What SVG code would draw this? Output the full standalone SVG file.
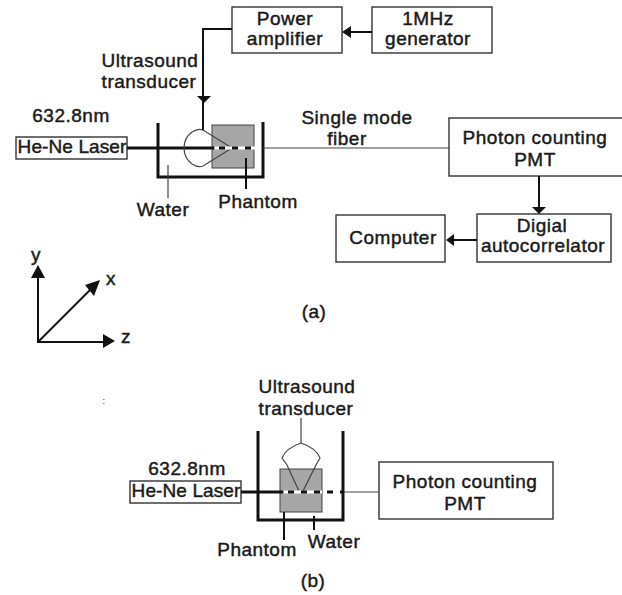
<svg xmlns="http://www.w3.org/2000/svg" width="622" height="595" viewBox="0 0 622 595">
<style>
text{font-family:"Liberation Sans",Arial,sans-serif;font-size:19px;letter-spacing:.5px;fill:#1a1a1a;text-anchor:middle;stroke:#1a1a1a;stroke-width:.45px}
.l{letter-spacing:.1px}
.b{fill:#fff;stroke:#333;stroke-width:1.4}
.t{fill:none;stroke:#111;stroke-width:3}
.m{fill:none;stroke:#111;stroke-width:2}
.n{fill:none;stroke:#444;stroke-width:1.2}
.p{fill:#a6a6a6;stroke:#444;stroke-width:1}
.a{fill:#111}
</style>
<rect width="622" height="595" fill="#fff"/>
<g id="power-amplifier"><rect class="b" x="232" y="7" width="110" height="46"/><text x="285" y="25">Power</text><text x="285" y="45">amplifier</text></g>
<g id="generator"><rect class="b" x="372" y="7" width="120" height="46"/><text x="428" y="25">1MHz</text><text x="428" y="45">generator</text></g>
<g id="label-transducer-a"><text x="150" y="67">Ultrasound</text><text x="149" y="88">transducer</text></g>
<g id="label-fiber"><text x="357" y="124">Single mode</text><text x="347" y="145">fiber</text></g>
<g id="pmt-a"><rect class="b" x="449" y="118" width="190" height="58"/><text x="535" y="144">Photon counting</text><text x="535" y="166">PMT</text></g>
<g id="autocorrelator"><rect class="b" x="477" y="214" width="134" height="48"/><text x="542" y="232">Digial</text><text x="543" y="252">autocorrelator</text></g>
<g id="computer"><rect class="b" x="336" y="215" width="109" height="47"/><text x="393" y="244">Computer</text></g>
<g id="laser-a"><rect class="b" x="16" y="137" width="111" height="22"/><text class="l" x="72" y="153">He-Ne Laser</text><text x="71" y="122">632.8nm</text></g>
<g id="tank-a">
<rect class="p" x="212" y="125" width="42" height="43"/>
<path class="t" d="M158 123V177H263V122"/>
<path class="t" d="M127 148H214"/>
<path class="n" d="M232 148L203 130Q198 128 192 132Q184 138 184 148Q184 158 192 164Q198 168 203 166L232 148"/>
<path d="M215 148H258" stroke="#fff" stroke-width="3" fill="none"/>
<path d="M219 148H258" stroke="#111" stroke-width="3" stroke-dasharray="6 7" fill="none"/>
<path class="n" d="M168 165V198"/>
<path class="m" d="M246 158V189"/>
<text x="163" y="216">Water</text><text x="258" y="208">Phantom</text>
</g>
<g id="connectors">
<path class="m" d="M232 29H203V130"/><path class="a" d="M197 96H211L204 103Z"/>
<path class="m" d="M372 32H349"/><path class="a" d="M351 26V38L342 32Z"/>
<path class="n" d="M263 148H449"/>
<path class="m" d="M539 176V208"/><path class="a" d="M532 207H546L539 214Z"/>
<path class="m" d="M477 240H452"/><path class="a" d="M454 234V246L446 240Z"/>
<path class="m" d="M38 343V272"/><path class="a" d="M31 278L38 265L45 278Z"/>
<path class="m" d="M38 342H106"/><path class="a" d="M103 334L115 341L103 348Z"/>
<path class="m" d="M38 342L92 288"/><path class="a" d="M85 285L100 280L94 296Z"/>
<path class="n" d="M343 492H379"/>
</g>
<g id="axes"><text x="36" y="261">y</text><text x="111" y="285">x</text><text x="126" y="343">z</text></g>
<text x="314" y="318">(a)</text>
<text x="104" y="404" style="font-size:9px;stroke:none">:</text>
<g id="laser-b"><rect class="b" x="130" y="481" width="111" height="22"/><text class="l" x="186" y="497">He-Ne Laser</text><text x="187" y="475">632.8nm</text></g>
<g id="tank-b">
<rect class="p" x="280" y="469" width="42" height="43"/>
<path class="t" d="M258 431V520H343V431"/>
<path class="t" d="M241 492H283"/>
<path class="n" d="M299 491L287 465L282 458Q286 448 301 443Q316 448 320 458L316 465L303 491"/>
<path d="M284 492H322" stroke="#fff" stroke-width="3" fill="none"/>
<path d="M288 492H342" stroke="#111" stroke-width="3" stroke-dasharray="6 7" fill="none"/>
<path class="n" d="M301 418V443"/>
<path class="m" d="M284 512V540"/>
<path class="m" d="M314 516V530"/>
<text x="257" y="556">Phantom</text><text x="334" y="548">Water</text>
</g>
<g id="label-transducer-b"><text x="307" y="393">Ultrasound</text><text x="306" y="415">transducer</text></g>
<g id="pmt-b"><rect class="b" x="379" y="462" width="174" height="57"/><text x="465" y="488">Photon counting</text><text x="465" y="510">PMT</text></g>
<text x="313" y="587">(b)</text>
</svg>
